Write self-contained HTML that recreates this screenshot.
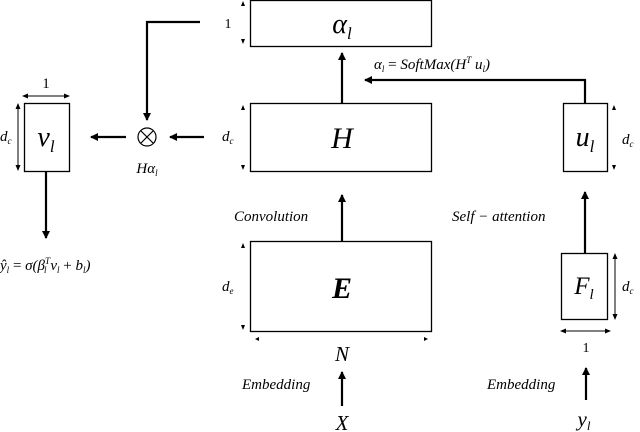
<!DOCTYPE html>
<html><head><meta charset="utf-8"><style>
html,body{margin:0;padding:0;background:#fff;}
svg{display:block;}
text{font-family:"Liberation Serif",serif;font-style:italic;fill:#000;}
.n{font-style:normal;}
</style></head><body>
<svg width="640" height="432" viewBox="0 0 640 432" xmlns="http://www.w3.org/2000/svg">
<defs>
<marker id="a" markerWidth="8" markerHeight="8" refX="7" refY="4" orient="auto" markerUnits="userSpaceOnUse">
<path d="M0,0 L8,4 L0,8 z" fill="#000"/></marker>
<marker id="s" markerWidth="6" markerHeight="6" refX="5" refY="3" orient="auto" markerUnits="userSpaceOnUse">
<path d="M0,0.5 L6,3 L0,5.5 z" fill="#000"/></marker>
</defs>
<g fill="none" stroke="#000" stroke-width="1.3">
<rect x="250.5" y="0.5" width="181" height="46"/>
<rect x="250.5" y="103.5" width="181" height="68"/>
<rect x="250.5" y="241.5" width="181" height="90"/>
<rect x="563.5" y="103.5" width="44" height="68"/>
<rect x="561.5" y="253.5" width="46" height="66"/>
<rect x="24.5" y="103.5" width="45" height="68"/>
</g>
<g stroke="#000" stroke-width="2.2" fill="none">
<path d="M200,22 H147 V120" marker-end="url(#a)"/>
<line x1="126" y1="137" x2="91" y2="137" marker-end="url(#a)"/>
<line x1="204" y1="137" x2="170" y2="137" marker-end="url(#a)"/>
<line x1="46" y1="171" x2="46" y2="238" marker-end="url(#a)"/>
<line x1="342" y1="103" x2="342" y2="53" marker-end="url(#a)"/>
<path d="M585,103 V80 H365" marker-end="url(#a)"/>
<line x1="342" y1="241" x2="342" y2="195" marker-end="url(#a)"/>
<line x1="585" y1="253" x2="585" y2="192" marker-end="url(#a)"/>
<line x1="342" y1="406" x2="342" y2="372" marker-end="url(#a)"/>
<line x1="586" y1="400" x2="586" y2="368" marker-end="url(#a)"/>
</g>
<g stroke="#000" stroke-width="1" fill="none">
<line x1="46" y1="96" x2="23" y2="96" marker-end="url(#s)"/>
<line x1="46" y1="96" x2="69" y2="96" marker-end="url(#s)"/>
<line x1="18" y1="137" x2="18" y2="104" marker-end="url(#s)"/>
<line x1="18" y1="137" x2="18" y2="170" marker-end="url(#s)"/>
<line x1="585" y1="331" x2="561" y2="331" marker-end="url(#s)"/>
<line x1="585" y1="331" x2="610" y2="331" marker-end="url(#s)"/>
<line x1="615" y1="286" x2="615" y2="254" marker-end="url(#s)"/>
<line x1="615" y1="286" x2="615" y2="319" marker-end="url(#s)"/>
</g>
<g fill="#000">
<path d="M241,6 L243,1 L245,6z M241,39 L243,44 L245,39z"/>
<path d="M241,110 L243,105 L245,110z M241,165 L243,170 L245,165z"/>
<path d="M241,248 L243,243 L245,248z M241,325 L243,330 L245,325z"/>
<path d="M612,110 L614,105 L616,110z M612,165 L614,170 L616,165z"/>
<path d="M255,339 L259,337 L259,341z M428,339 L424,337 L424,341z"/>
</g>
<circle cx="147" cy="137" r="9" fill="none" stroke="#000" stroke-width="1.2"/>
<line x1="141" y1="131" x2="153" y2="143" stroke="#000" stroke-width="1.2"/>
<line x1="153" y1="131" x2="141" y2="143" stroke="#000" stroke-width="1.2"/>
<text x="342" y="33" font-size="28" text-anchor="middle">α<tspan font-size="17" dy="6">l</tspan></text>
<text x="342" y="148" font-size="30" text-anchor="middle">H</text>
<text x="342" y="298" font-size="30" text-anchor="middle" font-weight="bold">E</text>
<text x="585" y="146" font-size="28" text-anchor="middle">u<tspan font-size="17" dy="6">l</tspan></text>
<text x="584" y="294" font-size="25" text-anchor="middle">F<tspan font-size="15" dy="5">l</tspan></text>
<text x="46" y="146" font-size="28" text-anchor="middle">v<tspan font-size="17" dy="6">l</tspan></text>
<text x="46" y="88" font-size="15" text-anchor="middle" class="n">1</text>
<text x="228" y="28" font-size="14" text-anchor="middle" class="n">1</text>
<text x="586" y="352" font-size="14" text-anchor="middle" class="n">1</text>
<text x="0" y="141" font-size="15">d<tspan font-size="9" dy="3">c</tspan></text>
<text x="222" y="141" font-size="15">d<tspan font-size="9" dy="3">c</tspan></text>
<text x="622" y="144" font-size="15">d<tspan font-size="9" dy="3">c</tspan></text>
<text x="622" y="291" font-size="15">d<tspan font-size="9" dy="3">c</tspan></text>
<text x="222" y="291" font-size="15">d<tspan font-size="9" dy="3">e</tspan></text>
<text x="147" y="173" font-size="15" text-anchor="middle">Hα<tspan font-size="9" dy="3">l</tspan></text>
<text x="0" y="270" font-size="15">ŷ<tspan font-size="9" dy="3">l</tspan><tspan dy="-3" class="n"> = </tspan>σ(β<tspan font-size="9" dy="-6">T</tspan><tspan font-size="9" dx="-6" dy="9">l</tspan><tspan dy="-3"> v</tspan><tspan font-size="9" dy="3">l</tspan><tspan dy="-3" class="n"> + </tspan>b<tspan font-size="9" dy="3">l</tspan><tspan dy="-3">)</tspan></text>
<text x="374" y="69" font-size="15">α<tspan font-size="9" dy="3">l</tspan><tspan dy="-3" class="n"> = </tspan>SoftMax(H<tspan font-size="9" dy="-6">T</tspan><tspan dy="6"> u</tspan><tspan font-size="9" dy="3">l</tspan><tspan dy="-3">)</tspan></text>
<text x="234" y="221" font-size="15">Convolution</text>
<text x="452" y="221" font-size="15">Self − attention</text>
<text x="242" y="389" font-size="15">Embedding</text>
<text x="487" y="389" font-size="15">Embedding</text>
<text x="342" y="361" font-size="21" text-anchor="middle">N</text>
<text x="342" y="430" font-size="21" text-anchor="middle">X</text>
<text x="584" y="426" font-size="21" text-anchor="middle">y<tspan font-size="13" dy="4">l</tspan></text>
</svg>
</body></html>
